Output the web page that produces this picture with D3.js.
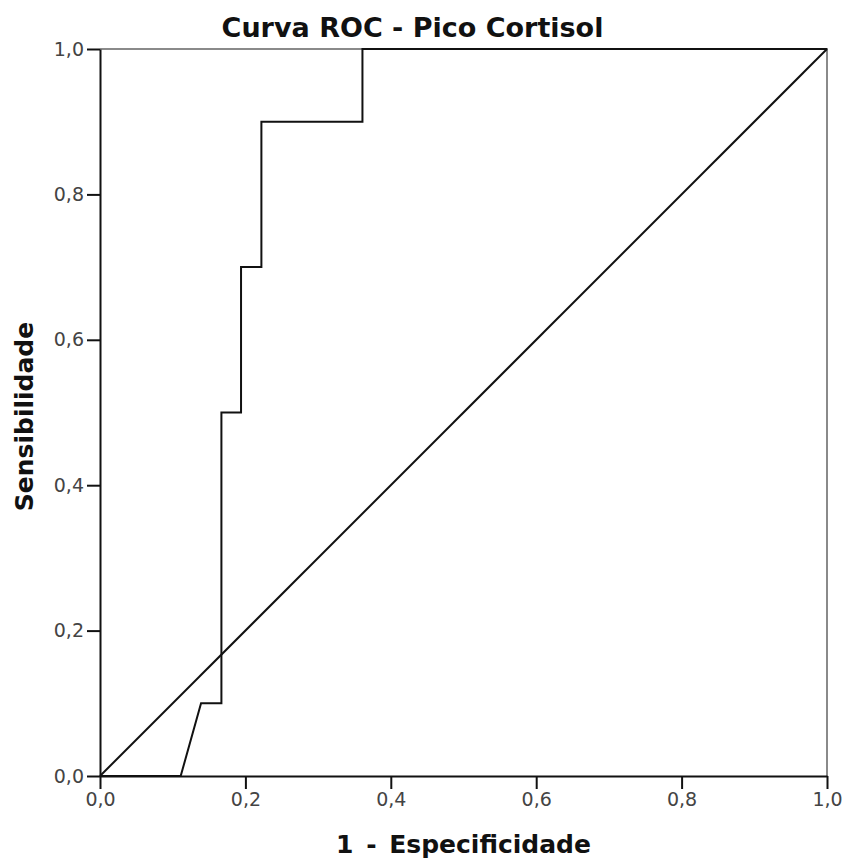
<!DOCTYPE html>
<html>
<head>
<meta charset="utf-8">
<script src="https://cdn.jsdelivr.net/npm/d3@7"></script>
<style>
  body { margin: 0; background: #fff; }
  svg { font-family: "DejaVu Sans", sans-serif; }
</style>
</head>
<body>
<div class="roc-container"></div>
<script>
// 1 - especificidade (x) e sensibilidade (y)
const fpr = [0, 0.111, 0.139, 0.167, 0.167, 0.194, 0.194, 0.222, 0.222, 0.361, 0.361, 1];
const tpr = [0, 0, 0.1, 0.1, 0.5, 0.5, 0.7, 0.7, 0.9, 0.9, 1, 1];
const refLine = [0, 1];
const tickValues = [0, 0.2, 0.4, 0.6, 0.8, 1];

const fmt = d => d3.format('.1f')(d).replace('.', ',');

function setupCanvas(){
    const svg_width = 848;
    const svg_height = 863;
    const margin = {top:49, right:21, bottom:87, left:100};
    const chart_width = svg_width - margin.left - margin.right;
    const chart_height = svg_height - margin.top - margin.bottom;

    const svg = d3.select('.roc-container').append('svg')
        .attr('width', svg_width).attr('height', svg_height);
    const g = svg.append('g')
        .attr('transform', `translate(${margin.left},${margin.top})`);

    const xScale = d3.scaleLinear().domain([0,1]).range([0, chart_width]);
    const yScale = d3.scaleLinear().domain([0,1]).range([chart_height, 0]);

    // moldura (topo e direita em cinza)
    g.append('path')
        .attr('d', `M0,${yScale(1)}H${xScale(1)}V${yScale(0)}`)
        .style('fill','none').style('stroke','#8a8a8a').style('stroke-width',2);

    // linha de referência
    const lineGen = d3.line().x(d => xScale(d[0])).y(d => yScale(d[1]));
    g.append('path')
        .attr('d', lineGen(refLine.map(v => [v, v])))
        .style('fill','none').style('stroke','#111').style('stroke-width',2);

    // curva ROC
    g.append('path')
        .attr('d', lineGen(fpr.map((d,i) => [d, tpr[i]])))
        .style('fill','none').style('stroke','#111').style('stroke-width',2)
        .style('stroke-linejoin','miter');

    // eixos
    const xAxis = d3.axisBottom(xScale).tickValues(tickValues).tickFormat(fmt)
        .tickSizeInner(13).tickSizeOuter(0).tickPadding(4);
    const xAxisDraw = g.append('g').attr('transform', `translate(0,${chart_height})`).call(xAxis);
    const yAxis = d3.axisLeft(yScale).tickValues(tickValues).tickFormat(fmt)
        .tickSizeInner(13).tickSizeOuter(0).tickPadding(3);
    const yAxisDraw = g.append('g').call(yAxis);

    [xAxisDraw, yAxisDraw].forEach(a => {
        a.select('.domain').style('stroke','#111').style('stroke-width',2);
        a.selectAll('.tick line').style('stroke','#111').style('stroke-width',2);
        a.selectAll('.tick text').style('font-size','19px').style('fill','#444')
            .style('font-family','"DejaVu Sans", sans-serif');
    });

    // títulos
    svg.append('text')
        .attr('x', margin.left + chart_width/2 - 51).attr('y', 37)
        .attr('text-anchor','middle')
        .style('font-size','27px').style('font-weight','bold').style('fill','#111')
        .text('Curva ROC - Pico Cortisol');

    svg.append('text')
        .attr('x', margin.left + chart_width/2).attr('y', 853)
        .attr('text-anchor','middle')
        .style('font-size','25px').style('font-weight','bold').style('fill','#111')
        .style('word-spacing','4px')
        .text('1 - Especificidade');

    svg.append('text')
        .attr('transform', `translate(33,${margin.top + chart_height/2 + 4}) rotate(-90)`)
        .attr('text-anchor','middle')
        .style('font-size','25px').style('font-weight','bold').style('fill','#111')
        .text('Sensibilidade');
}

setupCanvas();
</script>
</body>
</html>
